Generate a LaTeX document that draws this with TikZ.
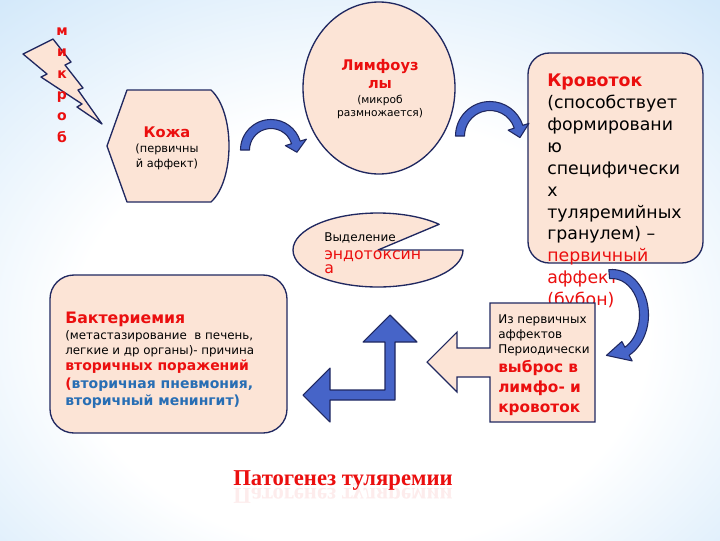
\documentclass[tikz,border=0pt]{standalone}
\usepackage{fontspec}
\setmainfont{DejaVu Sans}
\newfontfamily\titlefont{Liberation Serif}
\usetikzlibrary{shapes.geometric,arrows.meta}

\definecolor{peach}{RGB}{252,228,214}
\definecolor{navy}{RGB}{32,40,96}
\definecolor{arrblue}{RGB}{70,100,200}
\definecolor{txtred}{RGB}{235,15,15}
\definecolor{txtblue}{RGB}{40,110,180}
\definecolor{bgmid}{RGB}{212,233,250}
\definecolor{bgblue}{RGB}{160,207,242}

\pgfdeclareradialshading{bgshade}{\pgfpoint{0bp}{-8bp}}{color(0bp)=(white); color(20bp)=(white); color(38bp)=(bgmid); color(60bp)=(bgblue); color(75bp)=(bgblue)}

% curved block arrow: centre x,y, x radius, y radius, start angle, head angle, tip angle
\newcommand{\curvearrow}[6]{%
  \filldraw[blockarrow]
    ([shift={(#4:{#2+4.5} and {#3+4.5})}]#1)
    arc[start angle=#4, end angle=#5, x radius=#2+4.5, y radius=#3+4.5]
    -- ([shift={(#5:{#2+11} and {#3+11})}]#1)
    -- ([shift={(#6:#2 and #3)}]#1)
    -- ([shift={(#5:{#2-11} and {#3-11})}]#1)
    -- ([shift={(#5:{#2-4.5} and {#3-4.5})}]#1)
    arc[start angle=#5, end angle=#4, x radius=#2-4.5, y radius=#3-4.5]
    -- cycle;}

\begin{document}
\begin{tikzpicture}[x=0.75pt, y=-0.75pt,
    shapebox/.style={fill=peach, draw=navy, line width=1pt, line join=round},
    blockarrow/.style={fill=arrblue, draw=navy, line width=0.8pt, line join=round},
    textblock/.style={inner sep=0pt, align=left, anchor=north west}
]
\useasboundingbox (0,0) rectangle (720,540);
\shade[shading=bgshade] (0,0) rectangle (720,540);

% microbe bolt
\filldraw[shapebox] (23,54) -- (53,39) -- (71,62) -- (65,65) -- (83,88) -- (78,90)
  -- (102,124) -- (77,107) -- (82,104) -- (41,77) -- (47,74) -- cycle;
\node[align=center, inner sep=0pt, font=\bfseries\fontsize{10.5pt}{16pt}\selectfont, text=txtred] (microbe) at (62,85) {м\\и\\к\\р\\о\\б};

% skin
\filldraw[shapebox] (127,90) -- (211,90) .. controls (235,112) and (235,180) .. (211,202)
  -- (127,202) -- (107,146) -- cycle;
\node[align=center, inner sep=0pt, font=\fontsize{8.5pt}{11.25pt}\selectfont] (skin) at (167,148)
  {{\fontsize{11pt}{13pt}\selectfont\bfseries\color{txtred}Кожа}\\(первичны\\й аффект)};

% lymph nodes
\node[shapebox, ellipse, minimum width=114pt, minimum height=129pt] (lymph) at (379,88) {};
\node[align=center, inner sep=0pt, font=\fontsize{8pt}{10pt}\selectfont] (lymphtxt) at (380,89)
  {{\fontsize{11pt}{13pt}\selectfont\bfseries\color{txtred}Лимфоуз}\\[4pt]
   {\fontsize{11pt}{13pt}\selectfont\bfseries\color{txtred}лы}\\[1pt](микроб\\размножается)};

% blood stream
\node[shapebox, rectangle, rounded corners=16pt, minimum width=131.25pt, minimum height=157.5pt] (blood) at (615.5,158) {};
\node[textblock, font=\fontsize{13pt}{16.4pt}\selectfont] (bloodtxt) at (547,74)
  {{\bfseries\color{txtred}Кровоток}\\(способствует\\формировани\\ю\\специфически\\х\\туляремийных\\гранулем) –\\
   {\color{txtred}первичный}\\{\color{txtred}аффект}\\{\color{txtred}(бубон)}};

\curvearrow{271,150}{26}{26}{180}{343}{5}
\curvearrow{490,136}{30}{30}{180}{342}{3}

% endotoxin
\filldraw[shapebox] (378,250) -- (463,250) arc[start angle=0, end angle=316, x radius=85, y radius=37] -- cycle;
\node[textblock, font=\fontsize{9pt}{11pt}\selectfont] (toxin) at (324,232)
  {Выделение\\[2.5pt]{\fontsize{11.8pt}{13.5pt}\selectfont\color{txtred}эндотоксин}\\{\fontsize{11.8pt}{13.5pt}\selectfont\color{txtred}а}};

% bacteriemia
\node[shapebox, rectangle, rounded corners=18pt, minimum width=177.75pt, minimum height=118.5pt] (bakt) at (168.5,354) {};
\node[textblock, font=\fontsize{8.9pt}{11pt}\selectfont] (bakttxt) at (65,312)
  {{\fontsize{11.8pt}{13pt}\selectfont\bfseries\color{txtred}Бактериемия}\\[1pt]
   (метастазирование \ в печень,\\
   легкие и др органы)- причина\\[1pt]
   {\fontsize{10.5pt}{12pt}\selectfont\bfseries\color{txtred}вторичных поражений}\\[2.5pt]
   {\fontsize{10.5pt}{12pt}\selectfont\bfseries{\color{txtred}(}\color{txtblue}вторичная пневмония,}\\[1.5pt]
   {\fontsize{10.5pt}{12pt}\selectfont\bfseries\color{txtblue}вторичный менингит)}};

% bent arrow
\filldraw[blockarrow] (390,315) -- (417,342) -- (395,342) -- (395,400) -- (330,400) -- (330,422)
  -- (303,395) -- (330,368) -- (330,390) -- (385,390) -- (385,342) -- (363,342) -- cycle;

% release callout
\filldraw[shapebox, line width=0.8pt, line join=miter] (490,303) -- (595,303) -- (595,422) -- (490,422) -- (490,377) -- (457,377)
  -- (457,392) -- (427,362) -- (457,332) -- (457,348) -- (490,348) -- cycle;
\node[textblock, font=\fontsize{9pt}{11.25pt}\selectfont] (release) at (498,314)
  {Из первичных\\аффектов\\Периодически\\[3pt]
   {\fontsize{11.5pt}{14.25pt}\selectfont\bfseries\color{txtred}выброс в}\\[4pt]
   {\fontsize{11.5pt}{14.25pt}\selectfont\bfseries\color{txtred}лимфо- и}\\[4pt]
   {\fontsize{11.5pt}{14.25pt}\selectfont\bfseries\color{txtred}кровоток}};

\curvearrow{612,315}{32}{41}{-95}{62}{100}

% title
\node[font=\titlefont\bfseries\fontsize{17pt}{20pt}\selectfont, text=txtred] (title) at (343,481) {Патогенез туляремии};
\begin{scope}[shift={(343,493)}, yscale=-1]
\node[transform shape, font=\titlefont\bfseries\fontsize{17pt}{20pt}\selectfont, text=txtred, opacity=0.08] (titleshadow) at (0,0) {Патогенез туляремии};
\end{scope}
\end{tikzpicture}
\end{document}
